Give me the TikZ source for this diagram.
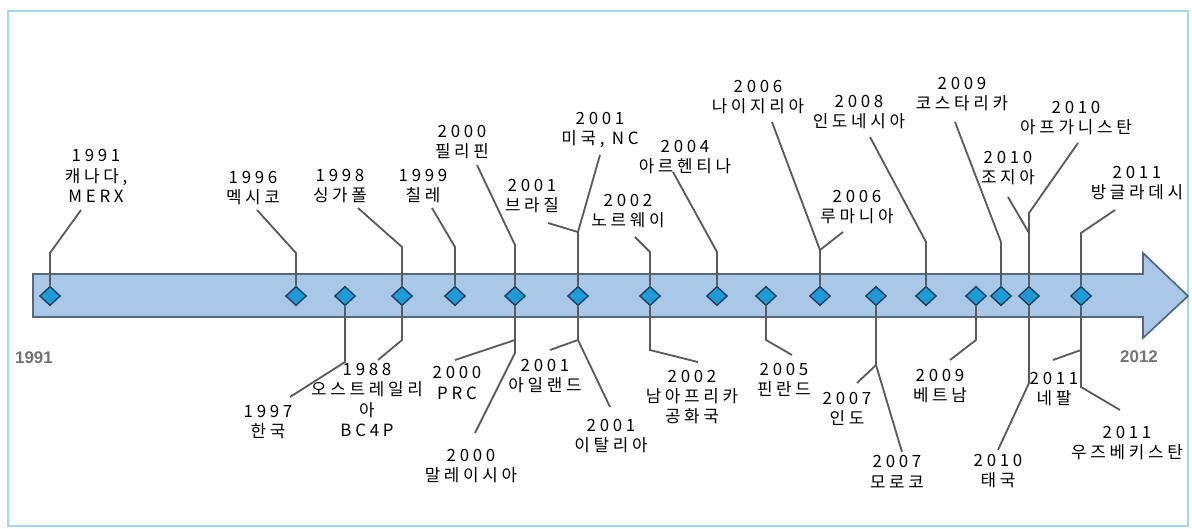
\documentclass[tikz,border=0pt]{standalone}
\usepackage{fontspec}
\newfontfamily\krfont[LetterSpace=22]{Noto Sans CJK KR}
\newfontfamily\axfont{Liberation Sans}
\usetikzlibrary{shapes.geometric}

\definecolor{framecol}{HTML}{A3D8EA}
\definecolor{barfill}{HTML}{A9C7E6}
\definecolor{baredge}{HTML}{56687A}
\definecolor{gemfill}{HTML}{1E9BD7}
\definecolor{gemedge}{HTML}{1B3F5E}
\definecolor{leadgray}{HTML}{5A5A5A}

\tikzset{
  lead/.style={draw=leadgray, line width=1.3pt},
  gem/.style={diamond, draw=gemedge, fill=gemfill, line width=1pt, inner sep=0pt,
    minimum width=0.52cm, minimum height=0.48cm},
  lbl/.style={align=center, inner sep=0pt, text=black,
    font=\krfont\fontsize{12}{14.5}\selectfont},
  axislbl/.style={inner sep=0pt, text=black!55, font=\axfont\bfseries\fontsize{12}{14}\selectfont}
}

\begin{document}
\begin{tikzpicture}[x=0.025cm, y=-0.025cm]
      \useasboundingbox (0,0) rectangle (1192,528);
      \draw[framecol, line width=1.8pt] (8,11) rectangle (1188,526);

      % the time bar
      \draw[fill=barfill, draw=baredge, line width=1.2pt]
      (33,274)--(1143,274)--(1143,253)--(1188,296)--(1143,338)--(1143,317)--(33,317)-- cycle;

      \node[axislbl] (y1991) at (34,358) {1991};
      \node[axislbl] (y2012) at (1139,357) {2012};

      \node[gem] (d1) at (50,296) {};
      \node[gem] (d2) at (296,296) {};
      \node[gem] (d3) at (345,296) {};
      \node[gem] (d4) at (402,296) {};
      \node[gem] (d5) at (455,296) {};
      \node[gem] (d6) at (515,296) {};
      \node[gem] (d7) at (578,296) {};
      \node[gem] (d8) at (650,296) {};
      \node[gem] (d9) at (717,296) {};
      \node[gem] (d10) at (766,296) {};
      \node[gem] (d11) at (820,296) {};
      \node[gem] (d12) at (876,296) {};
      \node[gem] (d13) at (926,296) {};
      \node[gem] (d14) at (976,296) {};
      \node[gem] (d15) at (1001,296) {};
      \node[gem] (d16) at (1029,296) {};
      \node[gem] (d17) at (1081,296) {};

      % labels above
      \node[lbl] (canada) at (96,176) {1991\\캐나다,\\MERX};
      \node[lbl] (mexico) at (253,188) {1996\\멕시코};
      \node[lbl] (singapore) at (340,186) {1998\\싱가폴};
      \node[lbl] (chile) at (423,186) {1999\\칠레};
      \node[lbl] (philippines) at (462,142) {2000\\필리핀};
      \node[lbl] (brazil) at (532,196) {2001\\브라질};
      \node[lbl] (usa) at (600,130) {2001\\미국, NC};
      \node[lbl] (norway) at (628,211) {2002\\노르웨이};
      \node[lbl] (argentina) at (685,157) {2004\\아르헨티나};
      \node[lbl] (nigeria) at (758,97) {2006\\나이지리아};
      \node[lbl] (romania) at (857,207) {2006\\루마니아};
      \node[lbl] (indonesia) at (859,112) {2008\\인도네시아};
      \node[lbl] (costarica) at (962,94) {2009\\코스타리카};
      \node[lbl] (georgia) at (1008,168) {2010\\조지아};
      \node[lbl] (afghan) at (1076,118) {2010\\아프가니스탄};
      \node[lbl] (bangla) at (1137,183) {2011\\방글라데시};

      % labels below
      \node[lbl] (korea) at (268,422) {1997\\한국};
      \node[lbl] (australia) at (367,400) {1988\\오스트레일리\\아\\BC4P};
      \node[lbl] (prc) at (457,383) {2000\\PRC};
      \node[lbl] (malaysia) at (471,466) {2000\\말레이시아};
      \node[lbl] (ireland) at (545,376) {2001\\아일랜드};
      \node[lbl] (italy) at (611,436) {2001\\이탈리아};
      \node[lbl] (safrica) at (692,397) {2002\\남아프리카\\공화국};
      \node[lbl] (finland) at (784,380) {2005\\핀란드};
      \node[lbl] (india) at (847,409) {2007\\인도};
      \node[lbl] (morocco) at (897,472) {2007\\모로코};
      \node[lbl] (vietnam) at (940,386) {2009\\베트남};
      \node[lbl] (thai) at (998,471) {2010\\태국};
      \node[lbl] (nepal) at (1054,389) {2011\\네팔};
      \node[lbl] (uzbek) at (1127,443) {2011\\우즈베키스탄};

      % leader tips
      \coordinate (t-canada) at (81,210);
      \coordinate (t-mexico) at (257,210);
      \coordinate (t-korea) at (290,397);
      \coordinate (t-singapore) at (358,208);
      \coordinate (t-australia) at (378,360);
      \coordinate (t-chile) at (432,208);
      \coordinate (t-philippines) at (477,165);
      \coordinate (t-prc) at (455,360);
      \coordinate (t-malaysia) at (475,433);
      \coordinate (t-brazil) at (548,223);
      \coordinate (t-usa) at (600,155);
      \coordinate (t-ireland) at (550,350);
      \coordinate (t-italy) at (610,407);
      \coordinate (t-norway) at (635,237);
      \coordinate (t-safrica) at (698,362);
      \coordinate (t-argentina) at (673,172);
      \coordinate (t-finland) at (792,355);
      \coordinate (t-nigeria) at (772,122);
      \coordinate (t-romania) at (843,232);
      \coordinate (t-india) at (857,383);
      \coordinate (t-morocco) at (902,452);
      \coordinate (t-indonesia) at (870,137);
      \coordinate (t-vietnam) at (950,360);
      \coordinate (t-costarica) at (955,122);
      \coordinate (t-georgia) at (1008,197);
      \coordinate (t-afghan) at (1078,143);
      \coordinate (t-thai) at (998,450);
      \coordinate (t-bangla) at (1115,210);
      \coordinate (t-nepal) at (1053,360);
      \coordinate (t-uzbek) at (1120,410);

      \draw[lead] (d1.north) -- (50,253) -- (t-canada);
      \draw[lead] (d2.north) -- (296,253) -- (t-mexico);
      \draw[lead] (d3.south) -- (345,362) -- (t-korea);
      \draw[lead] (d4.north) -- (402,247) -- (t-singapore);
      \draw[lead] (d4.south) -- (402,340) -- (t-australia);
      \draw[lead] (d5.north) -- (455,247) -- (t-chile);
      \draw[lead] (d6.north) -- (515,245) -- (t-philippines);
      \draw[lead] (d6.south) -- (515,340) coordinate (j6) -- (515,353) -- (t-malaysia);
      \draw[lead] (j6) -- (t-prc);
      \draw[lead] (d7.north) -- (578,232) coordinate (j7) -- (t-brazil);
      \draw[lead] (j7) -- (t-usa);
      \draw[lead] (d7.south) -- (578,340) coordinate (k7) -- (t-ireland);
      \draw[lead] (k7) -- (t-italy);
      \draw[lead] (d8.north) -- (650,252) -- (t-norway);
      \draw[lead] (d8.south) -- (650,350) -- (t-safrica);
      \draw[lead] (d9.north) -- (717,252) -- (t-argentina);
      \draw[lead] (d10.south) -- (766,340) -- (t-finland);
      \draw[lead] (d11.north) -- (820,250) coordinate (j11) -- (t-nigeria);
      \draw[lead] (j11) -- (t-romania);
      \draw[lead] (d12.south) -- (876,365) coordinate (j12) -- (t-india);
      \draw[lead] (j12) -- (t-morocco);
      \draw[lead] (d13.north) -- (926,242) -- (t-indonesia);
      \draw[lead] (d14.south) -- (976,340) -- (t-vietnam);
      \draw[lead] (d15.north) -- (1001,242) -- (t-costarica);
      \draw[lead] (d16.north) -- (1029,233) coordinate (j16) -- (1029,213) -- (t-afghan);
      \draw[lead] (j16) -- (t-georgia);
      \draw[lead] (d16.south) -- (1029,383) -- (t-thai);
      \draw[lead] (d17.north) -- (1081,233) -- (t-bangla);
      \draw[lead] (d17.south) -- (1081,350) coordinate (j17) -- (t-nepal);
      \draw[lead] (j17) -- (1081,387) -- (t-uzbek);

    \end{tikzpicture}
\end{document}
